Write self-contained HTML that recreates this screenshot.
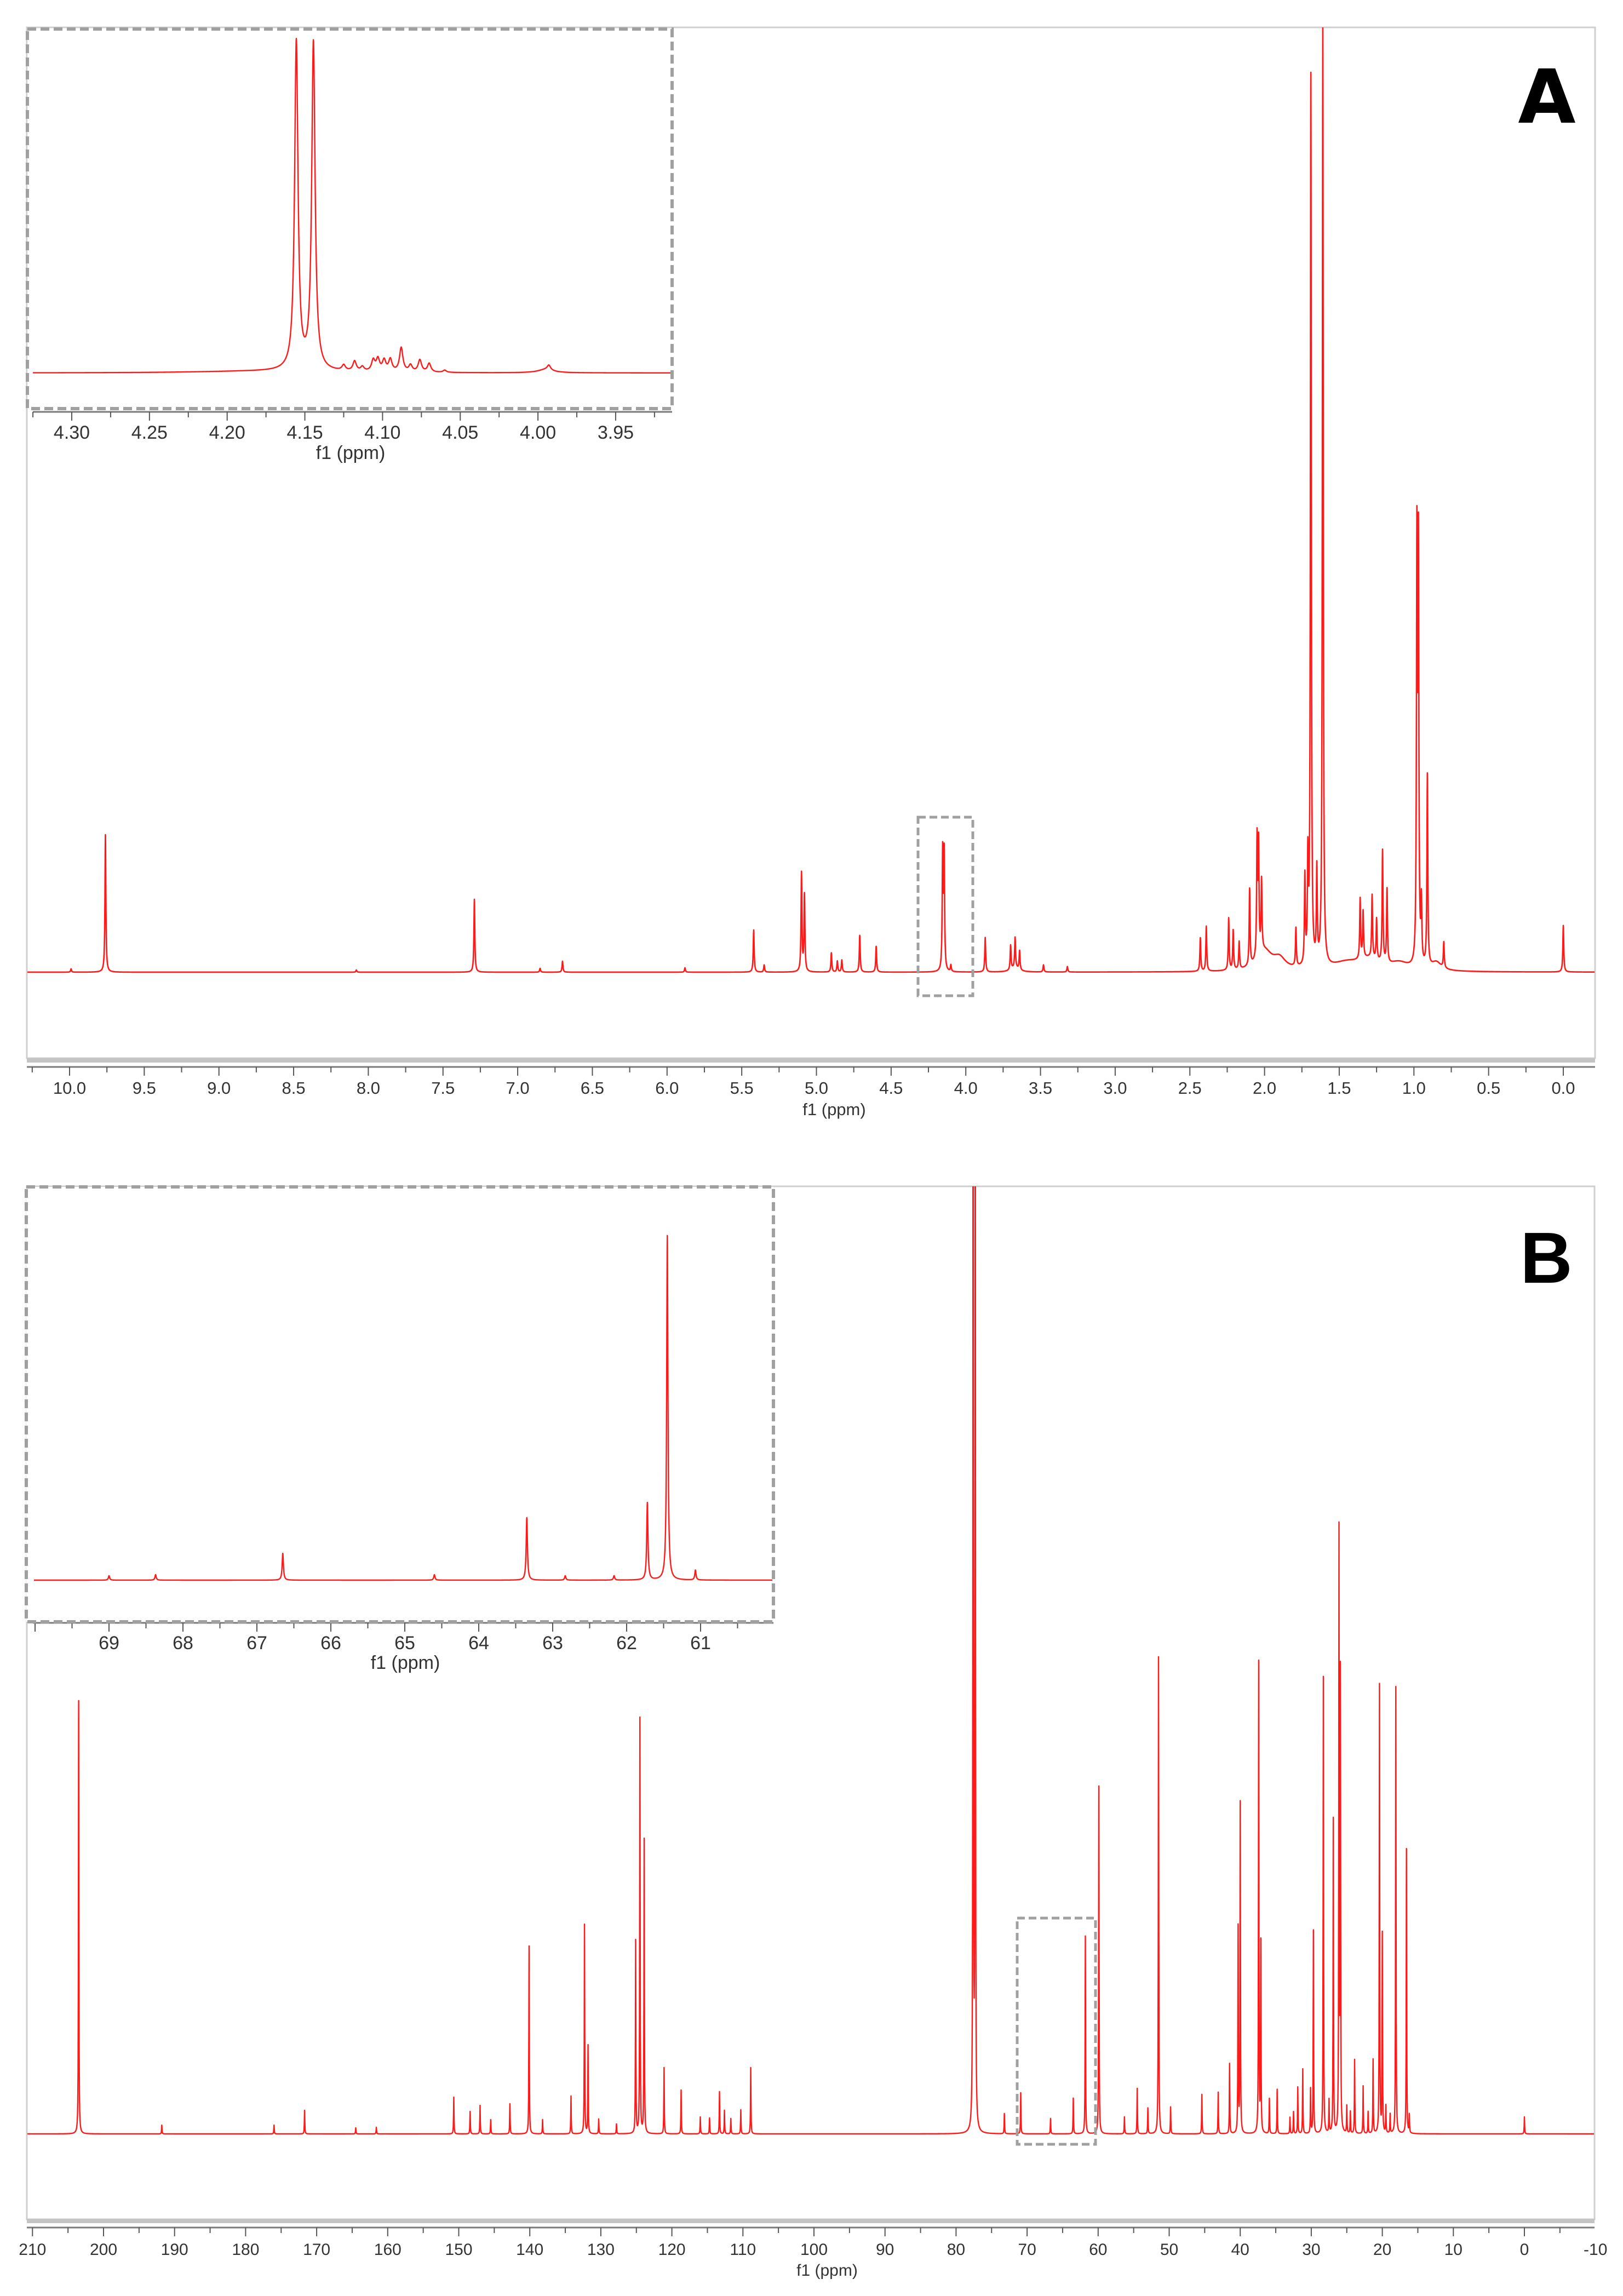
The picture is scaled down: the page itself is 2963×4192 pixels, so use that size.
<!DOCTYPE html>
<html><head><meta charset="utf-8">
<style>
html,body{margin:0;padding:0;background:#fff;}
svg{display:block;}
text{font-family:"Liberation Sans",sans-serif;fill:#333;}
</style></head>
<body>
<svg id="fig" width="2963" height="4192" viewBox="0 0 2963 4192" xmlns="http://www.w3.org/2000/svg">
<defs>
<clipPath id="clipA"><rect x="49" y="50" width="2863" height="1880"/></clipPath>
<clipPath id="clipB"><rect x="49" y="2166" width="2862" height="1884"/></clipPath>
</defs>
<rect x="0" y="0" width="2963" height="4192" fill="#fff"/>
<g id="panelA"></g>
<g id="panelB"></g>
</svg>
<script>
// ---------- Panel A (1H NMR) data ----------
const hShifts = [9.99,9.76,8.08,7.29,6.85,6.70,5.88,5.42,5.35,5.10,5.08,4.90,4.86,4.83,4.71,4.60,4.155,4.145,4.10,3.87,3.70,3.67,3.64,3.48,3.32,2.43,2.39,2.24,2.21,2.17,2.10,2.05,2.04,2.02,1.79,1.73,1.71,1.69,1.65,1.61,1.36,1.34,1.28,1.25,1.21,1.18,0.98,0.97,0.95,0.91,0.80,0.0];
const hHeights = [6,251,4,133,7,20,8,77,13,180,140,35,20,22,67,47,215,212,12,63,45,55,35,13,10,61,82,95,72,50,140,215,200,130,70,160,185,1625,170,1715,110,85,115,75,205,135,760,745,110,350,47,85];
const hHumpShifts = [2.00,1.90,1.45,1.30,1.10,0.85,3.67];
const hHumpHeights = [35,20,15,18,14,15,8];
const hHumpWidths = [0.06,0.05,0.12,0.08,0.08,0.04,0.03];
const hTicks = ["10.0","9.5","9.0","8.5","8.0","7.5","7.0","6.5","6.0","5.5","5.0","4.5","4.0","3.5","3.0","2.5","2.0","1.5","1.0","0.5","0.0"];
// Inset A (4.33 - 3.92 ppm)
const insAShifts = [4.1555,4.1445,4.125,4.118,4.113,4.106,4.103,4.099,4.095,4.088,4.082,4.076,4.070,4.060,3.993];
const insAHeights = [600,598,10,18,8,20,22,20,22,44,12,22,16,4,9];
const insATicks = ["4.30","4.25","4.20","4.15","4.10","4.05","4.00","3.95"];
// ---------- Panel B (13C NMR) data ----------
const cShifts = [203.5,191.8,176,171.7,164.5,161.6,150.7,148.4,147,145.5,142.8,140.1,138.2,134.2,132.3,131.8,130.3,127.8,125.1,124.5,123.9,121.1,118.7,116,114.7,113.3,112.6,111.7,110.3,108.9,77.6,77.3,73.2,70.9,66.7,63.5,61.8,59.9,56.3,54.5,53,51.5,49.8,45.4,43.1,41.5,40.3,40.0,37.4,37.1,35.9,34.8,33,32.5,31.9,31.2,30.1,29.7,28.3,27.5,26.9,26.1,25.9,25,24.5,23.9,22.7,22,21.3,20.4,20.0,19.5,18.9,18.1,16.6,16.2,0];
const cHeights = [791,16,16,43,11,12,67,41,52,26,55,343,26,69,382,161,27,18,352,758,537,121,80,31,29,77,43,28,44,121,2400,2400,37,75,28,65,361,635,31,83,47,871,49,72,76,128,375,603,860,346,64,81,30,40,85,118,81,371,834,60,574,1091,829,50,40,135,87,40,135,819,363,50,35,816,520,33,31];
const cTicks = ["210","200","190","180","170","160","150","140","130","120","110","100","90","80","70","60","50","40","30","20","10","0","-10"];
// Inset B (69.9 - 60.1 ppm)
const insBShifts = [69.0,68.37,66.65,64.6,63.35,62.83,62.17,61.72,61.45,61.07];
const insBHeights = [8,10,49,10,114,8,8,141,629,18];
const insBTicks = ["69","68","67","66","65","64","63","62","61"];

const NS = "http://www.w3.org/2000/svg";
function mk(tag, attrs, parent){const e=document.createElementNS(NS,tag);for(const k in attrs)e.setAttribute(k,attrs[k]);parent.appendChild(e);return e;}

const xA = p => 2854 - 272.7*p;       const yA = v => 1775 - v;
const xAi = p => 131 + (4.30-p)*2837; const yAi = v => 681 - v;
const xB = p => 2783 - 12.97*p;        const yB = v => 3896 - v;
const xBi = p => 199 + (69-p)*135;     const yBi = v => 2885 - v;

function spectrum(parent, name, shifts, heights, gamma, humps, xf, yf, x0, x1, clip, sw){
  const pts=[];
  for(let x=x0;x<=x1;x+=0.5) pts.push(x);
  shifts.forEach(s=>{const c=xf(s);pts.push(c);pts.push(c-0.3);pts.push(c+0.3);});
  pts.sort((a,b)=>a-b);
  const inv = x => { const a=xf(0), b=xf(1)-xf(0); return (x-a)/b; };
  let d="";
  pts.forEach((x)=>{
    if(x<x0||x>x1) return;
    const p=inv(x); let v=0;
    for(let k=0;k<shifts.length;k++){const t=(p-shifts[k])/gamma; v+=heights[k]/(1+t*t);}
    if(humps){for(let k=0;k<humps[0].length;k++){const t=(p-humps[0][k])/humps[2][k]; v+=humps[1][k]/(1+t*t);}}
    d+=(d?"L":"M")+x.toFixed(2)+" "+yf(v).toFixed(2);
  });
  const path=mk("path",{d:d,fill:"none",stroke:"#ff1a1a","stroke-width":sw,"stroke-linejoin":"round"},parent);
  if(clip) path.setAttribute("clip-path","url(#"+clip+")");
  
  
}

function axis(parent, name, labels, xf, axisY, xL, xR, minorStep, fs, labelY, title, titleY, titleX, band){
  const g=mk("g",{},parent);
  
  
  if(band){ mk("rect",{x:xL,y:band,width:xR-xL,height:8,fill:"#c4c4c4"},g); }
  mk("line",{x1:xL,y1:axisY,x2:xR,y2:axisY,stroke:"#7a7a7a","stroke-width":3},g);
  const vals=labels.map(Number);
  const step=vals[1]-vals[0];
  const lo=Math.min(vals[0],vals[vals.length-1])-Math.abs(step), hi=Math.max(vals[0],vals[vals.length-1])+Math.abs(step);
  for(let v=lo; v<=hi+1e-9; v+=minorStep){
    const x=xf(v); if(x<xL-1||x>xR+1) continue;
    const major = Math.abs(v/Math.abs(step)-Math.round(v/Math.abs(step)))<1e-6;
    mk("line",{x1:x,y1:axisY,x2:x,y2:axisY+(major?16:10),stroke:"#555","stroke-width":2},g);
  }
  labels.forEach(l=>{
    const t=mk("text",{x:xf(Number(l)),y:labelY,"text-anchor":"middle","font-size":fs},g);
    t.textContent=l;
    
    
  });
  const tt=mk("text",{x:titleX,y:titleY,"text-anchor":"middle","font-size":fs},g);
  tt.textContent=title;
  
  
}

// ---------- panel A ----------
const A=document.getElementById("panelA");
const fA=mk("rect",{x:49,y:50,width:2863,height:1882,fill:"none",stroke:"#cfcfcf","stroke-width":3},A);
 
spectrum(A,"h1-spectrum-line",hShifts,hHeights,0.0035,[hHumpShifts,hHumpHeights,hHumpWidths],xA,yA,50,2911,"clipA",2.6);
axis(A,"x-axis-a",hTicks,xA,1948,49,2912,0.25,31,1997,"f1 (ppm)",2036,1523,1932);
const bxA=mk("rect",{x:1676,y:1492,width:100,height:326,fill:"none",stroke:"#a0a0a0","stroke-width":5,"stroke-dasharray":"14 7"},A);
 
const IA=mk("g",{},A);
 
mk("rect",{x:50,y:53,width:1177,height:693,fill:"#fff"},IA);
spectrum(IA,"inset-a-spectrum-line",insAShifts,insAHeights,0.0013,[[4.18,3.995],[3,6],[0.05,0.006]],xAi,yAi,60,1225,null,2.4);
axis(IA,"inset-a-x-axis",insATicks,xAi,752,60,1227,0.025,34,801,"f1 (ppm)",838,640,null);
const dA=mk("rect",{x:50,y:53,width:1177,height:693,fill:"none",stroke:"#a0a0a0","stroke-width":6,"stroke-dasharray":"16 8"},IA);
 
const lA=mk("text",{x:2824,y:224,"text-anchor":"middle","font-size":136,"font-weight":"900",style:"fill:#000;font-family:'DejaVu Sans','Liberation Sans',sans-serif"},A);
lA.textContent="A";  

// ---------- panel B ----------
const B=document.getElementById("panelB");
const fB=mk("rect",{x:49,y:2166,width:2862,height:1886,fill:"none",stroke:"#cfcfcf","stroke-width":3},B);
 
spectrum(B,"c13-spectrum-line",cShifts,cHeights,0.035,null,xB,yB,50,2910,"clipB",2.4);
axis(B,"x-axis-b",cTicks,xB,4067,49,2911,5,30,4117,"f1 (ppm)",4155,1510,4051);
const bxB=mk("rect",{x:1857,y:3502,width:143,height:413,fill:"none",stroke:"#a0a0a0","stroke-width":5,"stroke-dasharray":"14 7"},B);
 
const IB=mk("g",{},B);
 
mk("rect",{x:48,y:2167,width:1364,height:794,fill:"#fff"},IB);
spectrum(IB,"inset-b-spectrum-line",insBShifts,insBHeights,0.01,null,xBi,yBi,62,1410,null,2.4);
axis(IB,"inset-b-x-axis",insBTicks,xBi,2963,60,1412,0.5,34,3011,"f1 (ppm)",3047,740,null);
const dB=mk("rect",{x:48,y:2167,width:1364,height:794,fill:"none",stroke:"#a0a0a0","stroke-width":6,"stroke-dasharray":"16 8"},IB);
 
const lB=mk("text",{x:2823,y:2342,"text-anchor":"middle","font-size":132,"font-weight":"bold",style:"fill:#000"},B);
lB.textContent="B";  
</script>
</body></html>
